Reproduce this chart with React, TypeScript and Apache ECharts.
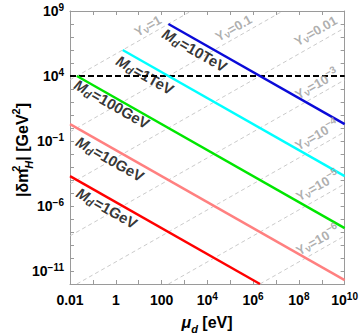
import React, { useEffect, useRef } from 'react';
import * as echarts from 'echarts';

// axis ranges (μ_d in eV, |δm_H^2| in GeV^2)
const xRange = [0.01, 1e10];
const yRange = [1e-12, 1e9];

// M_d lines (start/end points)
const mdNames = ['1GeV', '10GeV', '100GeV', '1TeV', '10TeV'];
const mdColors = ['#ff0000', '#ff8080', '#00e600', '#00ffff', '#0a0ad8'];
const mdStart: number[][] = [[0.01, 2e-4], [0.01, 2], [0.02, 1e4], [2, 1e6], [200, 1e8]];
const mdEnd: number[][] = [[2e6, 1e-12], [1e10, 2e-12], [1e10, 2e-8], [1e10, 2e-4], [1e10, 2]];
const mdLabelAt: number[][] = [[0.41, 7e-7], [0.56, 4.2e-3], [0.68, 70], [19, 1.2e4], [2800, 1e6]];

// constant Y_nu lines
const yvExp = [0, -1, -2, -3, -4, -5, -6];
const yvStart: number[][] = [[0.01, 5e3], [0.01, 0.5], [0.01, 5e-5], [0.01, 5e-9], [0.02, 1e-12], [200, 1e-12], [2e6, 1e-12]];
const yvEnd: number[][] = [[2e3, 1e9], [2e7, 1e9], [1e10, 5e7], [1e10, 5e3], [1e10, 0.5], [1e10, 5e-5], [1e10, 5e-9]];
const yvLabelAt: number[][] = [[25, 7e7], [1.4e5, 4.9e7], [5.4e8, 2.9e7], [6e8, 2.4e3], [6e8, 0.29], [6.6e8, 3.5e-5], [6.6e8, 2.4e-9]];

// horizontal dashed reference line
const hLineValue = 1e4;

const FONT = "'Liberation Sans', Arial, sans-serif";
const ANGLE = 29.6;

function exp10(v: number) {
  return Math.round(Math.log10(v));
}
function supText(n: number) {
  return n < 0 ? '\u2212' + -n : String(n);
}

export default function App() {
  const ref = useRef<HTMLDivElement>(null);
  useEffect(() => {
    const chart = echarts.init(ref.current!, null, { renderer: 'svg' });
    const tickRich = {
      sup: { fontSize: 10, fontWeight: 'bold', fontFamily: FONT, color: '#000', verticalAlign: 'top', lineHeight: 10 },
    };
    const baseAxis = {
      type: 'log',
      logBase: 10,
      interval: 1,
      axisLine: { show: true, lineStyle: { color: '#9a9a9a', width: 1 } },
      axisTick: { show: true, inside: true, length: 4, lineStyle: { color: '#9a9a9a' } },
      splitLine: { show: false },
      minorTick: { show: false },
    };
    const series: any[] = [];
    // Y_nu dashed lines
    yvExp.forEach((e, i) => {
      series.push({
        type: 'line',
        data: [yvStart[i], yvEnd[i]],
        showSymbol: false,
        symbol: 'none',
        silent: true,
        lineStyle: { color: '#c4c4c4', width: 0.9, type: [4, 3] },
        z: 1,
      });
    });
    // horizontal dashed line
    series.push({
      type: 'line',
      data: [[xRange[0], hLineValue], [xRange[1], hLineValue]],
      symbol: 'none',
      silent: true,
      lineStyle: { color: '#000', width: 2, type: [6, 3] },
      z: 3,
    });
    // M_d lines
    mdNames.forEach((n, i) => {
      series.push({
        type: 'line',
        data: [mdStart[i], mdEnd[i]],
        symbol: 'none',
        silent: true,
        lineStyle: { color: mdColors[i], width: 2.4 },
        z: 4,
      });
    });
    // M_d labels
    mdNames.forEach((n, i) => {
      series.push({
        type: 'scatter',
        data: [mdLabelAt[i]],
        symbolSize: 0,
        silent: true,
        z: 6,
        label: {
          show: true,
          position: 'inside',
          rotate: -ANGLE,
          formatter: `{m|M}{d|d}{t|=${n}}`,
          rich: {
            m: { fontSize: 15, fontWeight: 'bold', fontStyle: 'italic', fontFamily: FONT, color: '#000', lineHeight: 22 },
            d: { fontSize: 11, fontWeight: 'bold', fontStyle: 'italic', fontFamily: FONT, color: '#000', verticalAlign: 'bottom', lineHeight: 11, padding: [0, 1, 2, 0] },
            t: { fontSize: 15, fontWeight: 'bold', fontFamily: FONT, color: '#000', lineHeight: 22 },
          },
        },
      });
    });
    // Y_nu labels
    yvExp.forEach((e, i) => {
      const val = e >= -2 ? `{t|=${e === 0 ? '1' : e === -1 ? '0.1' : '0.01'}}` : `{t|=10}{p|${supText(e)}}`;
      series.push({
        type: 'scatter',
        data: [yvLabelAt[i]],
        symbolSize: 0,
        silent: true,
        z: 6,
        label: {
          show: true,
          position: 'inside',
          rotate: ANGLE,
          formatter: `{y|Y}{n|\u03bd}${val}`,
          rich: {
            y: { fontSize: 13, fontWeight: 'bold', fontFamily: FONT, color: '#9a9a9a', lineHeight: 19 },
            n: { fontSize: 10, fontWeight: 'bold', fontFamily: FONT, color: '#9a9a9a', verticalAlign: 'bottom', lineHeight: 10, padding: [0, 0, 2, 0] },
            t: { fontSize: 13, fontWeight: 'bold', fontFamily: FONT, color: '#9a9a9a', lineHeight: 19 },
            p: { fontSize: 10, fontWeight: 'bold', fontFamily: FONT, color: '#9a9a9a', verticalAlign: 'top', lineHeight: 10 },
          },
        },
      });
    });

    const nameRich = {
      t: { fontSize: 16, fontWeight: 'bold', fontFamily: FONT, color: '#000', lineHeight: 24 },
      i: { fontSize: 16, fontWeight: 'bold', fontStyle: 'italic', fontFamily: FONT, color: '#000', lineHeight: 24 },
      sup: { fontSize: 11, fontWeight: 'bold', fontFamily: FONT, color: '#000', verticalAlign: 'top', lineHeight: 11, width: 0 },
      sup2: { fontSize: 11, fontWeight: 'bold', fontFamily: FONT, color: '#000', verticalAlign: 'top', lineHeight: 11 },
      sub: { fontSize: 11, fontWeight: 'bold', fontStyle: 'italic', fontFamily: FONT, color: '#000', verticalAlign: 'bottom', lineHeight: 11 },
    };

    const option: any = {
      animation: false,
      grid: { left: 70, right: 16, top: 11, bottom: 52, containLabel: false },
      xAxis: [
        {
          ...baseAxis,
          min: xRange[0],
          max: xRange[1],
          position: 'bottom',
          axisLabel: {
            show: true,
            margin: 7,
            fontSize: 14,
            fontWeight: 'bold',
            fontFamily: FONT,
            color: '#000',
            lineHeight: 18,
            rich: tickRich,
            formatter: (v: number) => {
              const n = exp10(v);
              if (n % 2 !== 0) return '';
              if (n === -2) return '0.01';
              if (n === 0) return '1';
              if (n === 2) return '100';
              return `10{sup|${supText(n)}}`;
            },
          },
        },
        {
          ...baseAxis,
          min: xRange[0],
          max: xRange[1],
          position: 'top',
          axisLabel: { show: false },
        },
      ],
      yAxis: [
        {
          ...baseAxis,
          min: yRange[0],
          max: yRange[1],
          position: 'left',
          axisLabel: {
            show: true,
            margin: 6,
            fontSize: 14,
            fontWeight: 'bold',
            fontFamily: FONT,
            color: '#000',
            lineHeight: 18,
            rich: tickRich,
            formatter: (v: number) => {
              const n = exp10(v);
              if ((n + 11) % 5 !== 0) return '';
              return `10{sup|${supText(n)}}`;
            },
          },
        },
        {
          ...baseAxis,
          min: yRange[0],
          max: yRange[1],
          position: 'right',
          axisLabel: { show: false },
        },
      ],
      graphic: [
        {
          type: 'text',
          x: 22,
          y: 150,
          rotation: Math.PI / 2,
          style: {
            text: '{t|\u007c\u03b4m}{sup|2}{sub|H}{t|\u007c [GeV}{sup2|2}{t|]}',
            rich: nameRich,
            align: 'center',
            verticalAlign: 'middle',
          },
        },
        {
          type: 'text',
          x: 207,
          y: 322,
          style: {
            text: '{i|\u03bc}{sub|d}{t| [eV]}',
            rich: nameRich,
            align: 'center',
            verticalAlign: 'middle',
          },
        },
      ],
      series,
    };
    chart.setOption(option);
    return () => chart.dispose();
  }, []);
  return <div ref={ref} style={{ position: 'absolute', left: 0, top: 0, width: 361, height: 336 }} />;
}
